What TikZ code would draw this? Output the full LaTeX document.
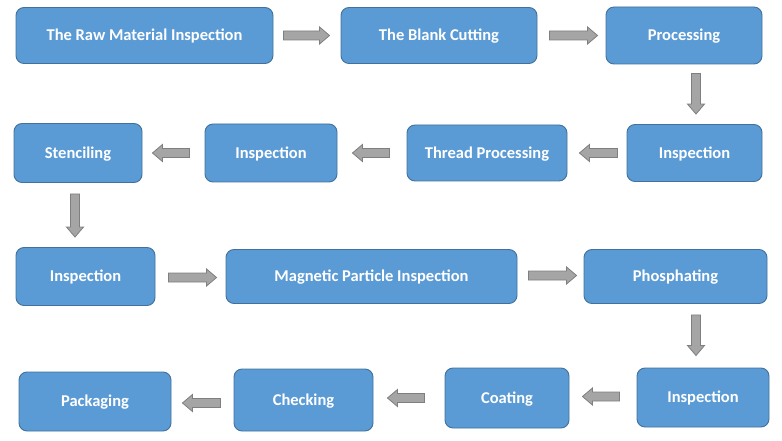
\documentclass[tikz,border=0pt]{standalone}
\usepackage{fontspec}
\setmainfont{Carlito}
\usetikzlibrary{calc}

\definecolor{boxblue}{HTML}{5B9BD5}
\definecolor{boxedge}{HTML}{41719C}
\definecolor{arrowgray}{HTML}{A5A5A5}
\definecolor{arrowedge}{HTML}{7F7F7F}

\tikzset{
  box/.style={draw=boxedge, fill=boxblue, line width=0.9pt, rounded corners=8pt,
    text=white, font=\fontsize{16.5}{19}\selectfont\bfseries, inner sep=0pt,
    text height=10.4pt, text depth=0pt},
  flow/.style={draw=arrowedge, fill=arrowgray, line width=0.8pt,
    to path={let \p1=($(\tikztotarget)-(\tikztostart)$),
      \n1={atan2(\y1,\x1)}, \n2={veclen(\x1,\y1)} in
      {[shift={(\tikztostart)}, rotate=\n1]
        (0pt,-4.5pt) -- (\n2-10pt,-4.5pt) -- (\n2-10pt,-8.5pt) -- (\n2,0pt)
        -- (\n2-10pt,8.5pt) -- (\n2-10pt,4.5pt) -- (0pt,4.5pt) -- cycle}}}
}

\begin{document}
\begin{tikzpicture}[x=1pt,y=-1pt]
\useasboundingbox (0,0) rectangle (782,441);

% row 1
\node[box, minimum width=257pt, minimum height=56pt] (raw) at (144.5,35.5) {The Raw Material Inspection};
\node[box, minimum width=196pt, minimum height=56pt] (blank) at (439,35.5) {The Blank Cutting};
\node[box, minimum width=156pt, minimum height=57pt] (proc) at (684,35.5) {Processing};

% row 2
\node[box, minimum width=135pt, minimum height=57pt] (insp1) at (694.5,153) {Inspection};
\node[box, minimum width=160pt, minimum height=56pt] (thread) at (487,153) {Thread Processing};
\node[box, minimum width=132pt, minimum height=58pt] (insp2) at (271,153) {Inspection};
\node[box, minimum width=128pt, minimum height=59pt] (stencil) at (78,153) {Stenciling};

% row 3
\node[box, minimum width=139pt, minimum height=58pt] (insp3) at (85.5,276.5) {Inspection};
\node[box, minimum width=291pt, minimum height=54pt] (magnet) at (371.5,276.5) {Magnetic Particle Inspection};
\node[box, minimum width=183pt, minimum height=54pt] (phos) at (675.5,276.5) {Phosphating};

% row 4
\node[box, minimum width=132pt, minimum height=59pt] (insp4) at (703,397.5) {Inspection};
\node[box, minimum width=124pt, minimum height=60pt] (coat) at (507,398) {Coating};
\node[box, minimum width=139pt, minimum height=62pt] (check) at (303.5,400) {Checking};
\node[box, minimum width=152pt, minimum height=59pt] (pack) at (95,401.5) {Packaging};

% arrows
\draw[flow] ($(raw.east)+(10,0)$) to ($(blank.west |- raw.east)+(-11,0)$);
\draw[flow] ($(blank.east)+(12,0)$) to ($(proc.west |- blank.east)+(-8,0)$);
\draw[flow] ($(proc.south -| insp1)+(1.5,9)$) to ($(insp1.north)+(1.5,-10)$);
\draw[flow] ($(insp1.west)+(-9,0)$) to ($(thread.east |- insp1.west)+(12,0)$);
\draw[flow] ($(thread.west)+(-17,0)$) to ($(insp2.east |- thread.west)+(15,0)$);
\draw[flow] ($(insp2.west)+(-15,0)$) to ($(stencil.east |- insp2.west)+(10,0)$);
\draw[flow] ($(stencil.south)+(-3,11)$) to ($(insp3.north -| stencil)+(-3,-10)$);
\draw[flow] ($(insp3.east)+(13,1)$) to ($(magnet.west |- insp3.east)+(-9,1)$);
\draw[flow] ($(magnet.east)+(11,-1)$) to ($(phos.west |- magnet.east)+(-7,-1)$);
\draw[flow] ($(phos.south -| insp4)+(-7,11)$) to ($(insp4.north)+(-7,-12)$);
\draw[flow] ($(insp4.west)+(-17,-1)$) to ($(coat.east |- insp4.west)+(13,-1)$);
\draw[flow] ($(coat.west)+(-20,0)$) to ($(check.east |- coat.west)+(14,0)$);
\draw[flow] ($(check.west)+(-13,3)$) to ($(pack.east |- check.west)+(11,3)$);
\end{tikzpicture}
\end{document}
